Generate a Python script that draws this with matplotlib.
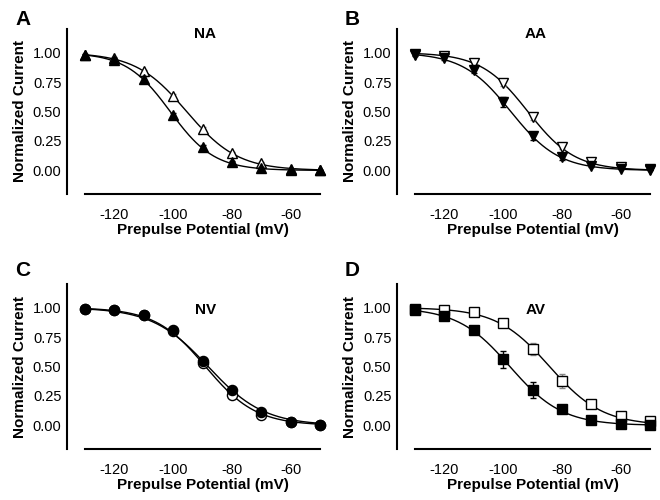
import numpy as np
import matplotlib
matplotlib.use("Agg")
import matplotlib.pyplot as plt

plt.rcParams['font.family'] = ['Liberation Sans', 'DejaVu Sans']
plt.rcParams['axes.unicode_minus'] = False

# prepulse potentials (mV)
volts = [-130, -120, -110, -100, -90, -80, -70, -60, -50]

# NA (triangles)
na_open = [0.98, 0.95, 0.84, 0.63, 0.35, 0.15, 0.06, 0.01, 0.00]
na_open_err = [0.01, 0.01, 0.01, 0.02, 0.02, 0.01, 0.01, 0.00, 0.00]
na_fill = [0.98, 0.94, 0.78, 0.47, 0.20, 0.07, 0.02, 0.00, 0.00]
na_fill_err = [0.01, 0.01, 0.02, 0.02, 0.02, 0.01, 0.01, 0.00, 0.00]
# AA (inverted triangles)
aa_open = [0.99, 0.97, 0.91, 0.74, 0.45, 0.20, 0.07, 0.03, 0.01]
aa_open_err = [0.01, 0.01, 0.01, 0.02, 0.02, 0.02, 0.01, 0.01, 0.00]
aa_fill = [0.98, 0.95, 0.85, 0.58, 0.29, 0.11, 0.04, 0.01, 0.00]
aa_fill_err = [0.01, 0.01, 0.02, 0.04, 0.03, 0.02, 0.01, 0.00, 0.00]
# NV (circles)
nv_open = [0.99, 0.98, 0.94, 0.80, 0.53, 0.26, 0.09, 0.03, 0.00]
nv_open_err = [0.01, 0.01, 0.01, 0.01, 0.02, 0.02, 0.01, 0.00, 0.00]
nv_fill = [0.99, 0.98, 0.94, 0.81, 0.55, 0.30, 0.11, 0.03, 0.00]
nv_fill_err = [0.01, 0.01, 0.01, 0.01, 0.02, 0.02, 0.01, 0.00, 0.00]
# AV (squares)
av_open = [0.99, 0.98, 0.96, 0.87, 0.65, 0.38, 0.18, 0.08, 0.04]
av_open_err = [0.01, 0.01, 0.01, 0.02, 0.05, 0.06, 0.02, 0.01, 0.01]
av_fill = [0.98, 0.93, 0.81, 0.56, 0.30, 0.14, 0.05, 0.01, 0.00]
av_fill_err = [0.01, 0.02, 0.03, 0.07, 0.07, 0.02, 0.01, 0.00, 0.00]

# Boltzmann fit parameters [V1/2, k] (open, filled)
na_fit = [[-95.4, 8.7], [-101.0, 7.5]]
aa_fit = [[-91.6, 8.0], [-97.4, 8.2]]
nv_fit = [[-89.0, 8.6], [-88.1, 9.5]]
av_fit = [[-84.2, 9.0], [-97.7, 8.9]]

panels = [
    ("A", "NA", "^", na_open, na_open_err, na_fill, na_fill_err, na_fit, 1.16),
    ("B", "AA", "v", aa_open, aa_open_err, aa_fill, aa_fill_err, aa_fit, 1.16),
    ("C", "NV", "o", nv_open, nv_open_err, nv_fill, nv_fill_err, nv_fit, 0.98),
    ("D", "AV", "s", av_open, av_open_err, av_fill, av_fill_err, av_fit, 0.98),
]

fig = plt.figure(figsize=(6.6, 5.0), dpi=100)
rects = [
    [85/660, 1-194/500, 235/660, 165/500],
    [415/660, 1-194/500, 235/660, 165/500],
    [85/660, 1-449/500, 235/660, 165/500],
    [415/660, 1-449/500, 235/660, 165/500],
]
letter_pos = [(15/660, 1-10/500), (345/660, 1-10/500), (15/660, 1-261/500), (345/660, 1-261/500)]

vv = np.linspace(-130, -50, 200)

for i, (letter, title, mk, yo, eo, yf, ef, fit, ty) in enumerate(panels):
    ax = fig.add_axes(rects[i])
    ms = 7.5 if mk in ("^", "v") else (7.3 if mk == "o" else 6.7)
    # fitted curves
    for (vh, k) in fit:
        ax.plot(vv, 1.0/(1.0+np.exp((vv-vh)/k)), color='black', lw=1.0, zorder=2)
    ax.errorbar(volts, yo, yerr=eo, fmt=mk, mfc='white', mec='black', mew=1.0, ms=ms,
                ecolor='#888888', elinewidth=1.0, capsize=2.5, zorder=3, clip_on=False)
    ax.errorbar(volts, yf, yerr=ef, fmt=mk, mfc='black', mec='black', mew=1.0, ms=ms,
                ecolor='black', elinewidth=1.0, capsize=2.5, zorder=4, clip_on=False)
    ax.set_xlim(-130, -50)
    ax.set_ylim(-0.2, 1.2)
    ax.set_xticks([-120, -100, -80, -60])
    ax.set_yticks([0, 0.25, 0.5, 0.75, 1.0])
    ax.set_yticklabels(["0.00", "0.25", "0.50", "0.75", "1.00"])
    ax.spines['top'].set_visible(False)
    ax.spines['right'].set_visible(False)
    ax.spines['left'].set_position(('outward', 13))
    ax.spines['left'].set_linewidth(1.5)
    ax.spines['bottom'].set_linewidth(1.5)
    ax.tick_params(axis='both', length=0, labelsize=10.5)
    ax.tick_params(axis='x', pad=10)
    ax.tick_params(axis='y', pad=4)
    ax.set_xlabel("Prepulse Potential (mV)", fontsize=11, fontweight='bold', labelpad=1)
    ax.set_ylabel("Normalized Current", fontsize=11, fontweight='bold', labelpad=4)
    ax.text(-89, ty, title, ha='center', va='center', fontsize=11, fontweight='bold')
    fig.text(letter_pos[i][0], letter_pos[i][1], letter, ha='left', va='top',
             fontsize=15, fontweight='bold')

fig.savefig("out.png", dpi=100)
